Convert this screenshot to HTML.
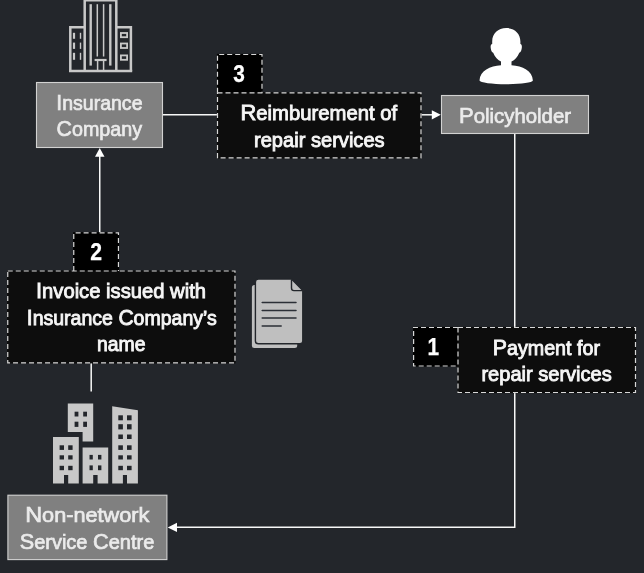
<!DOCTYPE html>
<html lang="en">
<head>
<meta charset="utf-8">
<title>Non-network repair reimbursement flow</title>
<style>
  html, body { margin: 0; padding: 0; background: #23262b; }
  body { width: 644px; height: 573px; overflow: hidden; }
  svg { display: block; will-change: transform; }
  text { font-family: "Liberation Sans", sans-serif; }
  .lbl { font-size: 21px; fill: #ebebeb; stroke: #ebebeb; stroke-width: 0.7px; }
  .dk  { font-size: 21px; fill: #f6f6f6; stroke: #f6f6f6; stroke-width: 0.9px; }
  .c { font-size: 22.7px; }
  .num { font-size: 23.5px; font-weight: bold; fill: #ffffff; stroke: #ffffff; stroke-width: 0.25px; }
</style>
</head>
<body>
<svg width="644" height="573" viewBox="0 0 644 573">
  <rect x="0" y="0" width="644" height="573" fill="#23262b"/>

  <!-- connectors -->
  <g stroke="#f8f8f8" stroke-width="1.5" fill="none">
    <line x1="162.6" y1="114.8" x2="217" y2="114.8"/>
    <line x1="421" y1="114.8" x2="433" y2="114.8"/>
    <line x1="99.75" y1="156" x2="99.75" y2="232.5"/>
    <line x1="91.2" y1="362.6" x2="91.2" y2="391.5"/>
    <line x1="514.75" y1="134" x2="514.75" y2="327.5"/>
    <polyline points="514.75,392.5 514.75,527.25 176,527.25"/>
  </g>
  <g fill="#ffffff">
    <polygon points="440.8,114.8 431.8,110.2 431.8,119.4"/>
    <polygon points="99.75,148.1 95,156.8 104.5,156.8"/>
    <polygon points="167.7,527.4 177,522.7 177,532.1"/>
  </g>

  <!-- grey entity boxes -->
  <g fill="#808080" stroke="#d2d2d2" stroke-width="1.1">
    <rect x="36.5" y="82.5" width="126" height="65"/>
    <rect x="441.5" y="95.5" width="147" height="38"/>
    <rect x="7.9" y="495.2" width="159" height="64.4"/>
  </g>

  <!-- dashed black boxes -->
  <g stroke="none">
    <rect x="216.9" y="53.9" width="45.7" height="39" fill="#000000"/>
    <rect x="73.1" y="232.2" width="46" height="39" fill="#000000"/>
    <rect x="413" y="326.9" width="45" height="39.7" fill="#000000"/>
    <rect x="216.9" y="92.2" width="204.7" height="66.3" fill="#0d0d0d"/>
    <rect x="7.1" y="270.4" width="228.5" height="93" fill="#0d0d0d"/>
    <rect x="457.4" y="326.9" width="178.7" height="66.2" fill="#0d0d0d"/>
  </g>
  <g stroke="#d8d8d8" stroke-width="1.2" stroke-dasharray="5 3" fill="none">
    <path d="M217.5 92.8 V54.5 H262 V92.8"/>
    <rect x="217.5" y="92.8" width="203.5" height="65.1"/>
    <path d="M73.75 271 V232.85 H118.45 V271"/>
    <rect x="7.75" y="271" width="227.25" height="91.8"/>
    <path d="M458 327.5 H413.6 V366 H458"/>
    <rect x="458" y="327.5" width="177.5" height="65"/>
  </g>

  <!-- labels: grey boxes -->
  <text class="lbl" x="56.3" y="109.8" textLength="86.2" lengthAdjust="spacingAndGlyphs"><tspan class="c">I</tspan>nsurance</text>
  <text class="lbl" x="56.6" y="136.3" textLength="85.4" lengthAdjust="spacingAndGlyphs"><tspan class="c">C</tspan>ompany</text>
  <text class="lbl" x="459" y="122.8" textLength="112" lengthAdjust="spacingAndGlyphs"><tspan class="c">P</tspan>olicyholder</text>
  <text class="lbl" x="25.2" y="522" textLength="124.2" lengthAdjust="spacingAndGlyphs"><tspan class="c">N</tspan>on-network</text>
  <text class="lbl" x="19.7" y="548.6" textLength="134.6" lengthAdjust="spacingAndGlyphs"><tspan class="c">S</tspan>ervice <tspan class="c">C</tspan>entre</text>

  <!-- labels: step descriptions -->
  <text class="dk" x="240.5" y="120.2" textLength="156.6" lengthAdjust="spacingAndGlyphs"><tspan class="c">R</tspan>eimburement of</text>
  <text class="dk" x="254" y="146.6" textLength="130.6" lengthAdjust="spacingAndGlyphs">repair services</text>
  <text class="dk" x="36" y="298.1" textLength="170" lengthAdjust="spacingAndGlyphs"><tspan class="c">I</tspan>nvoice issued with</text>
  <text class="dk" x="26.8" y="324.6" textLength="190" lengthAdjust="spacingAndGlyphs"><tspan class="c">I</tspan>nsurance <tspan class="c">C</tspan>ompany’s</text>
  <text class="dk" x="97" y="351" textLength="48.6" lengthAdjust="spacingAndGlyphs">name</text>
  <text class="dk" x="492.8" y="354.7" textLength="107.2" lengthAdjust="spacingAndGlyphs"><tspan class="c">P</tspan>ayment for</text>
  <text class="dk" x="481.4" y="381.1" textLength="130.4" lengthAdjust="spacingAndGlyphs">repair services</text>

  <!-- step numbers -->
  <text class="num" x="233.2" y="81.7" textLength="11.6" lengthAdjust="spacingAndGlyphs">3</text>
  <text class="num" x="90.2" y="260.2" textLength="11.8" lengthAdjust="spacingAndGlyphs">2</text>
  <text class="num" x="427.4" y="355.1" textLength="11.6" lengthAdjust="spacingAndGlyphs">1</text>

  <!-- icon: office tower (insurance company) -->
  <g fill="none" stroke="#c8c8c8" stroke-linecap="butt">
    <path d="M84.7 72 V0.2 H116.3 V72" stroke-width="2.5"/>
    <path d="M70.3 71 V27.3 H84" stroke-width="2.5"/>
    <path d="M117 27.3 H130.9 V71" stroke-width="2.5"/>
    <line x1="69" y1="71" x2="132.2" y2="71" stroke-width="2.5"/>
    <line x1="90.7" y1="4.2" x2="90.7" y2="65.6" stroke-width="2.4"/>
    <line x1="110.3" y1="4.2" x2="110.3" y2="65.6" stroke-width="2.4"/>
    <line x1="97.3" y1="4.2" x2="97.3" y2="56.5" stroke-width="1.5"/>
    <line x1="103.6" y1="4.2" x2="103.6" y2="56.5" stroke-width="1.5"/>
    <line x1="94.6" y1="60" x2="106.6" y2="60" stroke-width="2.2"/>
    <line x1="97.6" y1="60" x2="97.6" y2="70" stroke-width="1.5"/>
    <line x1="103.6" y1="60" x2="103.6" y2="70" stroke-width="1.5"/>
    <g stroke-width="2.2">
      <line x1="74" y1="32.8" x2="74" y2="38.8"/>
      <line x1="74" y1="42.6" x2="74" y2="48.9"/>
      <line x1="74" y1="52.8" x2="74" y2="59.8"/>
    </g>
    <g stroke-width="1.4">
      <line x1="80.5" y1="32.8" x2="80.5" y2="38.8"/>
      <line x1="80.5" y1="42.6" x2="80.5" y2="48.9"/>
      <line x1="80.5" y1="52.8" x2="80.5" y2="59.8"/>
    </g>
    <g stroke-width="1.8">
      <rect x="120.9" y="33" width="6.2" height="4.2"/>
      <rect x="120.9" y="43.5" width="6.2" height="4.5"/>
      <rect x="120.9" y="55.4" width="6.2" height="4.4"/>
    </g>
  </g>

  <!-- icon: person (policyholder) -->
  <g fill="#ffffff">
    <path d="M506.3 28.1 C498 28.1 492.2 33.5 492.2 41.5 L492.2 44 C490.6 44.4 490.4 46.4 490.8 48.6 C491.2 51 492 52.6 493.2 52.8 C494.8 57 498 60.4 501 61.6 L501 65.2 C490 66 480 70.5 479.5 80.5 C480 82.6 492 84.2 506.3 84.2 C520.6 84.2 532.4 82.6 532.9 80.5 C532.4 70.5 522.5 66 511.5 65.2 L511.5 61.6 C514.6 60.4 517.6 57 519.3 52.8 C520.5 52.6 521.3 51 521.7 48.6 C522.1 46.4 521.9 44.4 520.4 44 L520.4 41.5 C520.4 33.5 514.6 28.1 506.3 28.1 Z"/>
  </g>

  <!-- icon: document stack -->
  <g>
    <rect x="251.9" y="285" width="45.3" height="62.9" rx="2.5" fill="#bfbfbf"/>
    <path d="M258.5 279 H291.5 L302.8 290.4 V341 Q302.8 343.8 300 343.8 H258.5 Q255.4 343.8 255.4 341 V282 Q255.4 279 258.5 279 Z" fill="#bfbfbf" stroke="#23262b" stroke-width="1.4"/>
    <path d="M291.5 279.6 V288 Q291.5 290.6 294 290.6 H302.4" fill="none" stroke="#23262b" stroke-width="1.4"/>
    <g stroke="#2b2f36" stroke-width="1.5" stroke-linecap="round">
      <line x1="262.2" y1="302.5" x2="296" y2="302.5"/>
      <line x1="262.2" y1="310.4" x2="296" y2="310.4"/>
      <line x1="262.2" y1="318" x2="296" y2="318"/>
      <line x1="262.2" y1="325.9" x2="281.2" y2="325.9"/>
    </g>
  </g>

  <!-- icon: city buildings (service centre) -->
  <g fill="#c8c8c8">
    <path d="M67.8 403.4 H93.2 V441.4 H82.6 V431.9 H67.8 Z"/>
    <path d="M53 437 H78.8 V483.5 H68.2 V475 H64 V483.5 H53 Z"/>
    <path d="M82.6 447.6 H108.2 V483.5 H97.6 V475 H93.2 V483.5 H82.6 Z"/>
    <path d="M112.2 406.3 L137.9 410.2 V483.5 H127 V475 H122.9 V483.5 H112.2 Z"/>
  </g>
  <g fill="#23262b">
    <!-- A -->
    <rect x="74.6" y="411.7" width="3.8" height="4.8"/><rect x="83.2" y="411.7" width="3.8" height="4.8"/>
    <rect x="74.6" y="421.7" width="3.8" height="5.2"/><rect x="83.2" y="421.7" width="3.8" height="5.2"/>
    <!-- B -->
    <rect x="59.6" y="445.3" width="4.4" height="4.6"/><rect x="68.2" y="445.3" width="4.4" height="4.6"/>
    <rect x="59.6" y="455.3" width="4.4" height="4.2"/><rect x="68.2" y="455.3" width="4.4" height="4.2"/>
    <rect x="59.6" y="465.8" width="4.4" height="4.4"/><rect x="68.2" y="465.8" width="4.4" height="4.4"/>
    <!-- C -->
    <rect x="89.5" y="454.9" width="3.3" height="4.6"/><rect x="98" y="454.9" width="3.4" height="4.6"/>
    <rect x="89.5" y="465.4" width="3.3" height="4.8"/><rect x="98" y="465.4" width="3.4" height="4.8"/>
    <!-- D -->
    <rect x="118.3" y="415.3" width="4.6" height="5"/><rect x="127" y="415.3" width="4.6" height="5"/>
    <rect x="118.3" y="424.2" width="4.6" height="5.2"/><rect x="127" y="424.2" width="4.6" height="5.2"/>
    <rect x="118.3" y="434.5" width="4.6" height="4.5"/><rect x="127" y="434.5" width="4.6" height="4.5"/>
    <rect x="118.3" y="445.3" width="4.6" height="4.6"/><rect x="127" y="445.3" width="4.6" height="4.6"/>
    <rect x="118.3" y="455.3" width="4.6" height="4.2"/><rect x="127" y="455.3" width="4.6" height="4.2"/>
    <rect x="118.3" y="465.8" width="4.6" height="4.4"/><rect x="127" y="465.8" width="4.6" height="4.4"/>
  </g>
</svg>
</body>
</html>
